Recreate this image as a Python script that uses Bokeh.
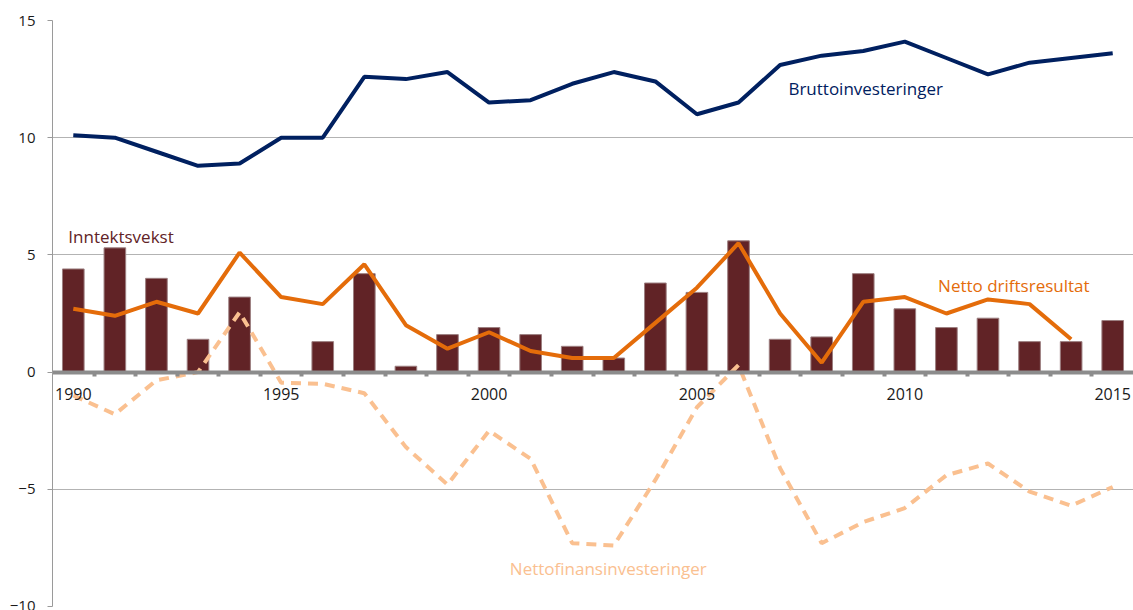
from bokeh.plotting import figure
from bokeh.models import Range1d, LinearAxis, FixedTicker, ColumnDataSource
from bokeh.core.properties import value
from bokeh.embed import file_html
from bokeh.resources import INLINE

years = list(range(1990, 2016))

inntektsvekst = [4.4, 5.3, 4.0, 1.4, 3.2, 0.0, 1.3, 4.2, 0.25, 1.6,
                 1.9, 1.6, 1.1, 0.6, 3.8, 3.4, 5.6, 1.4, 1.5, 4.2,
                 2.7, 1.9, 2.3, 1.3, 1.3, 2.2]

netto_drift = [2.7, 2.4, 3.0, 2.5, 5.1, 3.2, 2.9, 4.6, 2.0, 1.0,
               1.7, 0.9, 0.6, 0.6, 2.1, 3.6, 5.5, 2.5, 0.4, 3.0,
               3.2, 2.5, 3.1, 2.9, 1.4]

brutto = [10.1, 10.0, 9.4, 8.8, 8.9, 10.0, 10.0, 12.6, 12.5, 12.8,
          11.5, 11.6, 12.3, 12.8, 12.4, 11.0, 11.5, 13.1, 13.5, 13.7,
          14.1, 13.4, 12.7, 13.2, 13.4, 13.6]

nettofinans = [-1.0, -1.8, -0.35, 0.0, 2.55, -0.45, -0.5, -0.9, -3.2, -4.8,
               -2.5, -3.7, -7.3, -7.4, -4.6, -1.5, 0.3, -4.1, -7.3, -6.4,
               -5.8, -4.4, -3.9, -5.1, -5.7, -4.9]

y_ticks = [-10, -5, 0, 5, 10, 15]
year_labels = [1990, 1995, 2000, 2005, 2010, 2015]
# category boundaries, where the small tick marks sit
year_bounds = [y + 0.5 for y in years[:-1]]

FONT = "Open Sans"
NAVY = "#002060"
MAROON = "#612326"
ORANGE = "#E46C0A"
PEACH = "#FAC090"

p = figure(width=1133, height=610, output_backend="svg", toolbar_location=None,
           x_range=Range1d(1989.5, 2015.5), y_range=Range1d(-10, 15),
           x_axis_location=None, y_axis_location=None,
           min_border_left=52, min_border_right=0, min_border_top=20,
           min_border_bottom=4)
p.outline_line_color = None
p.background_fill_color = "white"
p.border_fill_color = "white"

# y axis
yax = LinearAxis(ticker=FixedTicker(ticks=y_ticks))
yax.axis_line_color = "#9a9a9a"
yax.major_tick_line_color = "#9a9a9a"
yax.major_tick_out = 5
yax.major_tick_in = 0
yax.minor_tick_line_color = None
yax.major_label_text_font = FONT
yax.major_label_text_font_size = "15px"
yax.major_label_text_color = "#1a1a1a"
yax.major_label_standoff = 12
p.add_layout(yax, "left")

p.ygrid.ticker = FixedTicker(ticks=y_ticks)
p.ygrid.grid_line_color = "#b3b3b3"
p.xgrid.grid_line_color = None

# category axis running through zero; tick marks between the years
xax = LinearAxis(ticker=FixedTicker(ticks=year_labels, minor_ticks=year_bounds),
                 fixed_location=0)
xax.axis_line_color = "#8c8c8c"
xax.axis_line_width = 4
xax.major_tick_line_color = None
xax.minor_tick_line_color = "#8c8c8c"
xax.minor_tick_line_width = 4
xax.minor_tick_out = 4
xax.minor_tick_in = 0
xax.major_label_text_font = FONT
xax.major_label_text_font_size = "16px"
xax.major_label_text_color = "#1a1a1a"
xax.major_label_standoff = 10
p.add_layout(xax, "below")

src = ColumnDataSource(dict(year=years, inn=inntektsvekst, brutto=brutto,
                            fin=nettofinans))
drift_src = ColumnDataSource(dict(year=years[:len(netto_drift)], drift=netto_drift))

p.vbar(x="year", top="inn", bottom=0, width=0.52, source=src,
       fill_color=MAROON, line_color="#9c7f80", line_width=1)

p.line(x="year", y="fin", source=src, line_color=PEACH, line_width=4,
       line_dash="10 7")
p.line(x="year", y="drift", source=drift_src, line_color=ORANGE, line_width=4)
p.line(x="year", y="brutto", source=src, line_color=NAVY, line_width=4)

# series labels
labels = [
    ("Bruttoinvesteringer", 2007.2, 12.1, NAVY),
    ("Inntektsvekst", 1989.88, 5.8, MAROON),
    ("Netto driftsresultat", 2010.8, 3.7, ORANGE),
    ("Nettofinansinvesteringer", 2000.5, -8.4, PEACH),
]
for txt, lx, ly, col in labels:
    p.text(x=[lx], y=[ly], text=[txt], text_color=col, text_font=value(FONT),
           text_font_size="17px", text_baseline="middle", text_align="left")

open("out.html", "w").write(file_html(p, INLINE))
